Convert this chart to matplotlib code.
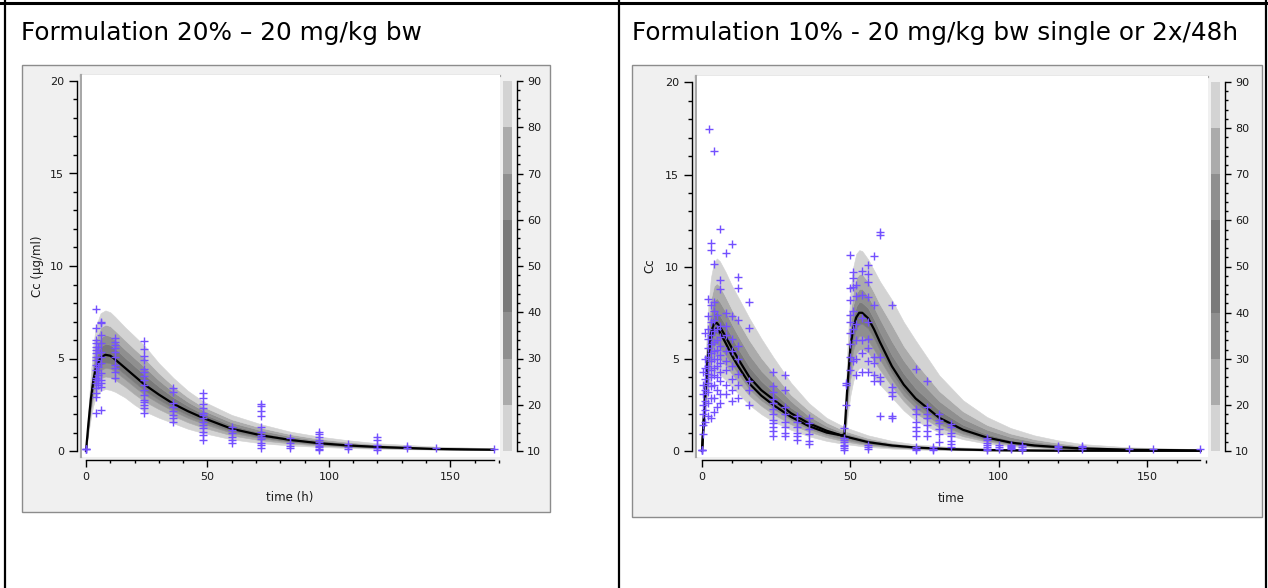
import matplotlib
matplotlib.use("Agg")
import matplotlib.pyplot as plt
from matplotlib.ticker import MultipleLocator

# ---- left panel: formulation 20 % (prediction percentiles)
t_left = [0, 1, 2, 3, 4, 6, 8, 10, 12, 16, 20, 24, 30, 36, 42, 48, 60, 72, 84, 96, 108, 120, 144, 168]
p10_left = [0, 0.95, 1.8, 2.45, 2.9, 3.25, 3.35, 3.3, 3.2, 2.9, 2.5, 2.15, 1.8, 1.5, 1.2, 0.98, 0.63, 0.42, 0.3, 0.22, 0.16, 0.12, 0.07, 0.04]
p20_left = [0, 1.15, 2.17, 2.95, 3.47, 3.92, 4.03, 3.98, 3.85, 3.49, 3.07, 2.69, 2.26, 1.89, 1.55, 1.28, 0.84, 0.58, 0.41, 0.29, 0.21, 0.16, 0.085, 0.051]
p30_left = [0, 1.29, 2.42, 3.29, 3.86, 4.37, 4.5, 4.45, 4.29, 3.89, 3.46, 3.05, 2.58, 2.15, 1.79, 1.49, 0.98, 0.69, 0.49, 0.34, 0.25, 0.18, 0.095, 0.059]
p40_left = [0, 1.38, 2.58, 3.5, 4.11, 4.65, 4.79, 4.74, 4.57, 4.15, 3.71, 3.28, 2.78, 2.32, 1.94, 1.62, 1.07, 0.76, 0.53, 0.38, 0.27, 0.2, 0.1, 0.063]
p50_left = [0, 1.5, 2.8, 3.8, 4.45, 5.05, 5.2, 5.15, 4.95, 4.5, 4.05, 3.6, 3.05, 2.55, 2.15, 1.8, 1.2, 0.85, 0.6, 0.42, 0.3, 0.22, 0.11, 0.07]
p60_left = [0, 1.7, 3.15, 4.28, 5.01, 5.65, 5.8, 5.74, 5.53, 5.05, 4.59, 4.13, 3.48, 2.9, 2.43, 2.03, 1.39, 1.0, 0.71, 0.51, 0.37, 0.27, 0.14, 0.09]
p70_left = [0, 1.85, 3.45, 4.65, 5.46, 6.13, 6.28, 6.21, 5.99, 5.49, 5.02, 4.55, 3.82, 3.18, 2.65, 2.21, 1.54, 1.12, 0.8, 0.58, 0.43, 0.31, 0.17, 0.106]
p80_left = [0, 2.05, 3.75, 5.1, 5.98, 6.68, 6.83, 6.75, 6.51, 6.0, 5.51, 5.03, 4.21, 3.5, 2.9, 2.41, 1.71, 1.26, 0.91, 0.66, 0.49, 0.36, 0.2, 0.124]
p90_left = [0, 2.3, 4.2, 5.7, 6.7, 7.45, 7.6, 7.5, 7.25, 6.7, 6.2, 5.7, 4.75, 3.95, 3.25, 2.7, 1.95, 1.45, 1.05, 0.78, 0.58, 0.42, 0.24, 0.15]

obs_t_left = [0, 4, 5, 6, 12, 24, 36, 48, 60, 72, 84, 96, 108, 120, 132, 144, 168]
obs_c_left = [
    [0.1, 0.1, 0.1],
    [7.66, 6.63, 6.0, 5.82, 5.64, 5.46, 5.28, 5.1, 4.92, 4.65, 4.38, 3.93, 3.84, 3.66, 3.39, 3.12, 2.94, 2.04],
    [5.64, 4.55, 4.1, 3.84, 3.57],
    [6.99, 6.9, 6.27, 5.82, 5.37, 5.1, 4.74, 4.2, 3.84, 3.66, 3.48, 2.22],
    [6.09, 5.9, 5.73, 5.55, 5.37, 5.1, 4.65, 4.47, 4.29, 3.93],
    [5.96, 5.49, 5.13, 4.92, 4.42, 4.25, 4.03, 3.84, 3.57, 3.3, 3.03, 2.76, 2.67, 2.49, 2.3, 2.08],
    [3.39, 3.21, 2.62, 2.4, 2.16, 1.94, 1.77, 1.59],
    [3.12, 2.85, 2.53, 2.3, 2.06, 1.94, 1.77, 1.59, 1.41, 1.23, 1.05, 0.87, 0.6],
    [1.32, 1.14, 0.96, 0.78, 0.6, 0.42],
    [2.55, 2.45, 2.14, 1.87, 1.32, 1.05, 0.87, 0.78, 0.63, 0.42, 0.33, 0.15],
    [0.69, 0.45, 0.27, 0.15],
    [1.05, 0.92, 0.78, 0.6, 0.46, 0.38, 0.29, 0.2, 0.09, 0.05],
    [0.38, 0.24, 0.1],
    [0.74, 0.6, 0.33, 0.18, 0.05],
    [0.27, 0.15],
    [0.15],
    [0.1],
]

# ---- right panel: formulation 10 %, single dose group
t_single = [0, 1, 2, 3, 4, 5, 6, 8, 10, 12, 16, 20, 24, 30, 36, 42, 48, 56, 64, 72, 84, 96, 120, 144, 168]
p10_single = [0, 1.9, 3.2, 3.9, 4.2, 4.25, 4.15, 3.85, 3.5, 3.15, 2.5, 2.0, 1.6, 1.15, 0.8, 0.55, 0.38, 0.22, 0.13, 0.08, 0.04, 0.02, 0.01, 0.0, 0.0]
p20_single = [0, 2.3, 3.9, 4.75, 5.1, 5.15, 5.0, 4.65, 4.2, 3.8, 3.0, 2.45, 2.0, 1.45, 1.05, 0.75, 0.52, 0.31, 0.19, 0.12, 0.06, 0.03, 0.012, 0.004, 0.004]
p30_single = [0, 2.55, 4.35, 5.35, 5.75, 5.8, 5.65, 5.2, 4.7, 4.25, 3.35, 2.75, 2.3, 1.7, 1.2, 0.87, 0.62, 0.37, 0.23, 0.15, 0.08, 0.04, 0.015, 0.007, 0.006]
p40_single = [0, 2.8, 4.8, 5.9, 6.35, 6.4, 6.25, 5.75, 5.2, 4.65, 3.7, 3.05, 2.55, 1.85, 1.35, 1.0, 0.72, 0.43, 0.27, 0.17, 0.09, 0.045, 0.018, 0.009, 0.008]
p50_single = [0, 3.0, 5.2, 6.4, 6.9, 6.95, 6.75, 6.2, 5.6, 5.05, 4.0, 3.3, 2.8, 2.05, 1.5, 1.1, 0.8, 0.48, 0.3, 0.19, 0.1, 0.05, 0.02, 0.01, 0.01]
p60_single = [0, 3.2, 5.6, 6.9, 7.45, 7.55, 7.35, 6.8, 6.2, 5.6, 4.55, 3.8, 3.2, 2.35, 1.7, 1.2, 0.88, 0.54, 0.34, 0.22, 0.12, 0.065, 0.027, 0.013, 0.012]
p70_single = [0, 3.5, 6.1, 7.55, 8.15, 8.3, 8.1, 7.55, 6.9, 6.3, 5.2, 4.35, 3.7, 2.7, 1.9, 1.35, 0.98, 0.62, 0.4, 0.25, 0.15, 0.085, 0.035, 0.018, 0.014]
p80_single = [0, 3.8, 6.7, 8.25, 8.95, 9.1, 8.95, 8.35, 7.7, 7.1, 6.0, 5.05, 4.25, 3.05, 2.2, 1.55, 1.1, 0.7, 0.45, 0.3, 0.17, 0.1, 0.045, 0.022, 0.016]
p90_single = [0, 4.3, 7.6, 9.4, 10.2, 10.45, 10.3, 9.7, 9.0, 8.4, 7.2, 6.1, 5.1, 3.7, 2.6, 1.8, 1.3, 0.85, 0.55, 0.36, 0.22, 0.14, 0.06, 0.03, 0.02]

# 2x/48h group: median before the second dose, then percentiles after it
t_double_early = [0, 1, 2, 3, 4, 5, 6, 8, 10, 12, 16, 20, 24, 30, 36, 42, 47]
p50_double_early = [0, 2.8, 4.9, 6.1, 6.6, 6.65, 6.45, 5.85, 5.2, 4.65, 3.65, 3.0, 2.5, 1.85, 1.35, 1.0, 0.85]

t_double = [47, 48, 49, 50, 51, 52, 53, 54, 56, 58, 60, 64, 68, 72, 80, 88, 96, 104, 112, 120, 128, 144, 168]
p10_double = [0.4, 0.42, 1.8, 3.0, 3.8, 4.3, 4.5, 4.55, 4.4, 4.0, 3.6, 2.9, 2.2, 1.65, 1.0, 0.64, 0.4, 0.26, 0.17, 0.12, 0.08, 0.04, 0.02]
p20_double = [0.55, 0.58, 2.4, 3.9, 4.8, 5.3, 5.5, 5.55, 5.35, 4.9, 4.4, 3.5, 2.7, 2.05, 1.27, 0.8, 0.51, 0.33, 0.21, 0.15, 0.1, 0.05, 0.023]
p30_double = [0.66, 0.7, 2.8, 4.5, 5.5, 6.0, 6.25, 6.25, 6.0, 5.5, 4.95, 3.9, 3.0, 2.35, 1.45, 0.93, 0.59, 0.38, 0.25, 0.17, 0.115, 0.058, 0.026]
p40_double = [0.76, 0.8, 3.15, 5.1, 6.1, 6.65, 6.9, 6.9, 6.65, 6.1, 5.45, 4.25, 3.3, 2.6, 1.65, 1.05, 0.66, 0.42, 0.27, 0.19, 0.13, 0.065, 0.028]
p50_double = [0.85, 0.9, 3.5, 5.6, 6.7, 7.25, 7.5, 7.5, 7.2, 6.6, 5.9, 4.6, 3.6, 2.85, 1.8, 1.15, 0.73, 0.46, 0.3, 0.21, 0.14, 0.07, 0.03]
p60_double = [0.93, 0.98, 3.85, 6.1, 7.25, 7.85, 8.1, 8.05, 7.75, 7.15, 6.45, 5.2, 4.2, 3.4, 2.2, 1.42, 0.92, 0.59, 0.39, 0.27, 0.18, 0.09, 0.042]
p70_double = [1.04, 1.09, 4.25, 6.75, 7.95, 8.55, 8.8, 8.8, 8.4, 7.8, 7.15, 5.95, 4.9, 4.05, 2.7, 1.75, 1.16, 0.76, 0.51, 0.35, 0.23, 0.12, 0.056]
p80_double = [1.16, 1.21, 4.75, 7.45, 8.75, 9.4, 9.6, 9.6, 9.2, 8.6, 7.95, 6.85, 5.7, 4.8, 3.25, 2.15, 1.42, 0.95, 0.64, 0.44, 0.29, 0.15, 0.07]
p90_double = [1.35, 1.4, 5.5, 8.6, 10.0, 10.7, 10.9, 10.85, 10.4, 9.8, 9.2, 8.2, 7.0, 6.0, 4.1, 2.75, 1.85, 1.25, 0.85, 0.58, 0.38, 0.2, 0.1]

obs_t_right = [0, 0.5, 1, 2, 2.5, 3, 4, 5, 6, 8, 10, 12, 16, 24, 28, 32, 36, 48, 48.5, 50, 51, 52, 54, 56, 58, 60, 64,
               72, 76, 78, 80, 84, 96, 100, 104, 108, 120, 128, 144, 152, 168]
obs_c_right = [
    [0.05, 0.05, 0.05],
    [0.9, 1.4, 2.0, 2.5, 3.1, 3.6, 4.3],
    [1.6, 2.2, 2.7, 3.3, 3.9, 4.5, 5.0, 6.4],
    [1.9, 2.6, 3.2, 3.7, 4.2, 4.6, 5.1, 5.6, 6.1, 6.6, 7.3, 8.26],
    [17.45],
    [1.8, 2.9, 3.5, 4.0, 4.4, 4.9, 5.3, 5.8, 6.3, 7.0, 7.9, 10.9, 11.3],
    [2.1, 2.9, 3.6, 4.1, 4.5, 5.0, 5.4, 5.9, 6.5, 7.1, 7.6, 8.1, 10.14, 16.3],
    [2.4, 3.3, 4.0, 4.6, 5.0, 5.5, 6.0, 6.6, 7.4],
    [2.6, 3.1, 3.8, 4.3, 4.8, 5.2, 5.7, 6.2, 6.8, 8.8, 9.3, 12.07],
    [3.1, 3.6, 4.4, 4.9, 5.4, 6.3, 6.8, 7.5, 10.75],
    [2.7, 3.3, 3.9, 4.6, 5.4, 6.1, 7.3, 11.25],
    [2.9, 3.6, 4.2, 5.0, 5.7, 7.1, 8.85, 9.43],
    [2.5, 3.3, 3.8, 6.7, 8.08],
    [0.8, 1.1, 1.3, 1.5, 1.7, 2.0, 2.3, 2.6, 2.8, 3.2, 3.5, 4.3],
    [0.8, 1.0, 1.3, 1.6, 2.0, 2.4, 3.3, 4.1],
    [0.6, 0.8, 1.0, 1.3, 1.6, 1.9],
    [0.4, 0.55, 0.9, 1.2, 1.5, 1.8],
    [0.05, 0.15, 0.25, 0.35, 0.5, 0.6, 0.7, 1.27],
    [2.5, 3.6, 3.7],
    [4.4, 5.1, 5.8, 6.4, 7.0, 7.4, 8.2, 8.85, 10.66],
    [4.9, 6.6, 7.6, 8.9, 9.38, 9.7],
    [4.1, 5.0, 6.0, 6.9, 8.4, 9.0],
    [4.3, 5.3, 6.0, 7.2, 8.44, 9.76],
    [0.1, 0.2, 0.35, 4.3, 4.9, 5.6, 6.1, 7.0, 8.33, 9.17, 9.6, 10.08],
    [3.8, 4.1, 4.8, 5.1, 7.9, 10.57],
    [1.9, 3.8, 4.0, 5.1, 11.7, 11.9],
    [1.8, 1.9, 3.0, 3.18, 3.45, 7.9],
    [0.05, 0.1, 0.2, 0.8, 1.1, 1.3, 1.6, 2.0, 2.3, 4.45],
    [0.8, 1.1, 1.4, 1.8, 2.0, 2.4, 3.8],
    [0.05, 0.1, 0.2],
    [0.5, 0.9, 1.2, 1.5, 1.7, 2.0],
    [0.2, 0.4, 0.55, 0.8, 1.0, 1.3, 1.45],
    [0.05, 0.1, 0.2, 0.3, 0.45, 0.6, 0.73],
    [0.1, 0.2, 0.3],
    [0.1, 0.15, 0.2, 0.25, 0.35],
    [0.05, 0.1, 0.2, 0.3],
    [0.1, 0.2, 0.25],
    [0.1, 0.2, 0.25],
    [0.1],
    [0.1],
    [0.1],
]

# percentile legend (colour strip)
cb_bounds = [10, 20, 30, 40, 60, 70, 80, 90]
cb_colors = ["#d3d3d3", "#ababab", "#8f8f8f", "#7a7a7a", "#8f8f8f", "#ababab", "#d3d3d3"]
band_colors = ["#d3d3d3", "#ababab", "#8f8f8f", "#7a7a7a", "#7a7a7a", "#8f8f8f", "#ababab", "#d3d3d3"]
obs_color = "#7350ff"
tick_color = "#1a1a1a"

W, H = 1268, 588
fig = plt.figure(figsize=(W / 100, H / 100), dpi=100)
plt.rcParams["font.family"] = "DejaVu Sans"

bg = fig.add_axes([0, 0, 1, 1])
bg.set_xlim(0, W)
bg.set_ylim(H, 0)
bg.axis("off")


def px_axes(x0, y0, x1, y1):
    return fig.add_axes([x0 / W, 1 - y1 / H, (x1 - x0) / W, (y1 - y0) / H])


def draw_bands(ax, t, curves):
    for lo, hi, c in zip(curves[:-1], curves[1:], band_colors):
        ax.fill_between(t, lo, hi, color=c, lw=0.4, edgecolor=c)


def draw_obs(ax, times, values):
    xs, ys = [], []
    for t, vals in zip(times, values):
        xs += [t] * len(vals)
        ys += vals
    ax.plot(xs, ys, "+", color=obs_color, ms=5.5, mew=1.0, zorder=5)


def style_main(ax, x0px, y0px, px_per_x, px_per_y, box):
    # box = white area in pixels (x0, y0, x1, y1)
    bx0, by0, bx1, by1 = box
    ax.set_xlim((bx0 - x0px) / px_per_x, (bx1 - x0px) / px_per_x)
    ax.set_ylim((y0px - by1) / px_per_y, (y0px - by0) / px_per_y)
    for s in ["top", "right"]:
        ax.spines[s].set_visible(False)
    ax.spines["left"].set_position(("outward", 3.5))
    ax.spines["left"].set_bounds(0, 20)
    ax.spines["bottom"].set_position(("outward", 2))
    ax.spines["bottom"].set_bounds(0, 168)
    for s in ["left", "bottom"]:
        ax.spines[s].set_linewidth(1.0)
    ax.yaxis.set_major_locator(MultipleLocator(5))
    ax.yaxis.set_minor_locator(MultipleLocator(1))
    ax.xaxis.set_major_locator(MultipleLocator(50))
    ax.xaxis.set_minor_locator(MultipleLocator(10))
    ax.tick_params(axis="y", which="major", length=6, width=1, pad=3.5, labelsize=8, labelcolor=tick_color)
    ax.tick_params(axis="y", which="minor", length=3, width=1)
    ax.tick_params(axis="x", which="major", length=5, width=1, pad=4, labelsize=8, labelcolor=tick_color)
    ax.tick_params(axis="x", which="minor", length=2.5, width=1)
    ax.set_facecolor("white")


def colour_strip(box):
    x0, y0, x1, y1 = box
    cax = px_axes(x0, y0, x1, y1)
    cax.set_xlim(0, 1)
    cax.set_ylim(10, 90)
    cax.bar([0.5] * len(cb_colors), [b - a for a, b in zip(cb_bounds[:-1], cb_bounds[1:])],
            bottom=cb_bounds[:-1], width=1.0, color=cb_colors, lw=0)
    for s in ["top", "left", "bottom"]:
        cax.spines[s].set_visible(False)
    cax.spines["right"].set_position(("outward", 3.5))
    cax.spines["right"].set_linewidth(1.0)
    cax.set_xticks([])
    cax.yaxis.tick_right()
    cax.yaxis.set_major_locator(MultipleLocator(10))
    cax.yaxis.set_minor_locator(MultipleLocator(2))
    cax.tick_params(axis="y", which="major", length=4.5, width=1, pad=3, labelsize=8, labelcolor=tick_color)
    cax.tick_params(axis="y", which="minor", length=2.5, width=1)
    cax.patch.set_alpha(0)


# table lines and grey plot boxes
bg.plot([0, W], [2.5, 2.5], color="black", lw=2.2)
bg.plot([4.5, 4.5], [0, H], color="black", lw=1.6)
bg.plot([618.5, 618.5], [0, H], color="black", lw=1.6)
bg.plot([1265.5, 1265.5], [0, H], color="black", lw=1.6)
for (x0, y0, x1, y1) in [(22, 65, 550, 512), (632, 65, 1262, 517)]:
    bg.add_patch(plt.Rectangle((x0, y0), x1 - x0, y1 - y0, facecolor="#f0f0f0", edgecolor="#8c8c8c", lw=1))

bg.text(21, 33, "Formulation 20% \u2013 20 mg/kg bw", fontsize=17.8, va="center", ha="left")
bg.text(632, 33, "Formulation 10% - 20 mg/kg bw single or 2x/48h", fontsize=17.8, va="center", ha="left")

# ---- left chart
box_l = (82, 75, 500, 457)
ax1 = px_axes(*box_l)
pcts_l = [p10_left, p20_left, p30_left, p40_left, p50_left, p60_left, p70_left, p80_left, p90_left]
draw_bands(ax1, t_left, pcts_l)
ax1.plot(t_left, p50_left, color="black", lw=1.6, zorder=4)
draw_obs(ax1, obs_t_left, obs_c_left)
style_main(ax1, 86, 451, 2.4286, 18.5, box_l)
bg.plot([81, 500], [75.5, 75.5], color="#a8a8a8", lw=1.6)
bg.plot([81, 81], [75, 457], color="#a8a8a8", lw=1.6)
bg.text(37, 266, "Cc (\u00b5g/ml)", rotation=90, fontsize=8.5, va="center", ha="center", color=tick_color)
bg.text(290, 497, "time (h)", fontsize=8.5, va="center", ha="center", color=tick_color)
colour_strip((503, 81, 512, 451))

# ---- right chart
box_r = (697, 76, 1208, 457)
ax2 = px_axes(*box_r)
pcts_s = [p10_single, p20_single, p30_single, p40_single, p50_single, p60_single, p70_single, p80_single, p90_single]
pcts_d = [p10_double, p20_double, p30_double, p40_double, p50_double, p60_double, p70_double, p80_double, p90_double]
draw_bands(ax2, t_single, pcts_s)
draw_bands(ax2, t_double, pcts_d)
ax2.plot(t_single, p50_single, color="black", lw=1.6, zorder=4)
ax2.plot(t_double_early, p50_double_early, color="black", lw=1.6, zorder=4)
ax2.plot(t_double, p50_double, color="black", lw=1.6, zorder=4)
draw_obs(ax2, obs_t_right, obs_c_right)
style_main(ax2, 702, 451, 2.9667, 18.43, box_r)
bg.plot([696, 1208], [76.5, 76.5], color="#a8a8a8", lw=1.6)
bg.plot([696, 696], [76, 457], color="#a8a8a8", lw=1.6)
bg.text(650, 266, "Cc", rotation=90, fontsize=8.5, va="center", ha="center", color=tick_color)
bg.text(951, 498, "time", fontsize=8.5, va="center", ha="center", color=tick_color)
colour_strip((1211, 82, 1220, 451))

fig.savefig("out.png", dpi=100)
